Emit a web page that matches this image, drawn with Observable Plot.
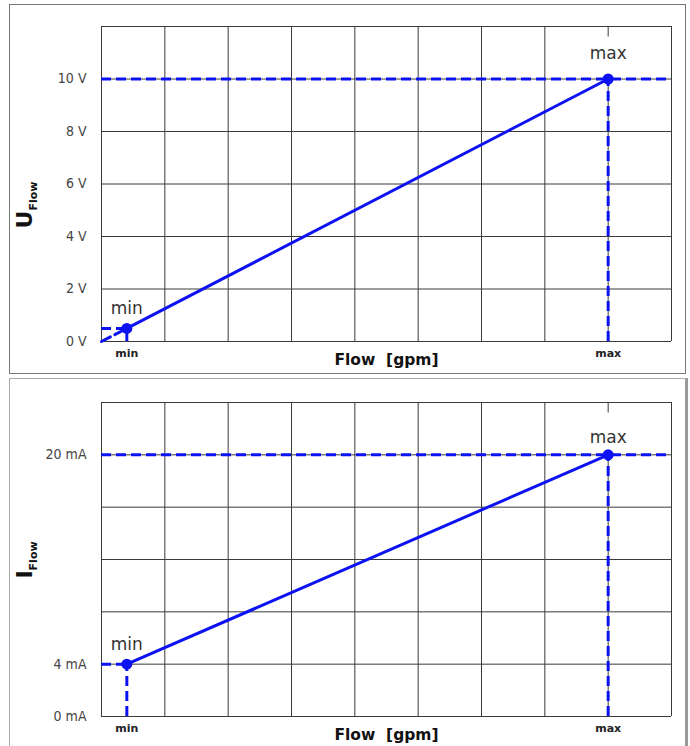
<!DOCTYPE html>
<html><head><meta charset="utf-8">
<script src="https://cdn.jsdelivr.net/npm/d3@7"></script>
<script src="https://cdn.jsdelivr.net/npm/@observablehq/plot@0.6"></script>
<style>
body{margin:0;background:#fff;width:690px;height:746px;overflow:hidden;position:relative;font-family:"DejaVu Sans",sans-serif}
.panel{position:absolute;box-sizing:border-box;background:#fff;overflow:hidden}
#p1{left:9px;top:4px;width:677px;height:370px;border:1px solid #777}
#p2{left:9px;top:378px;width:679px;height:372px;border:1px solid #aaa;border-right:3px solid #999}
.panel svg{display:block}
</style></head><body>
<div id="p1" class="panel"></div><div id="p2" class="panel"></div>
<script>
// ---- data ----
const xGrid = [0, 1, 2, 3, 4, 5, 6, 7, 8, 9];
const xMin = 0.4, xMax = 8;
const xTickLabels = ["min", "max"];
const xLabel = "Flow\u00a0\u00a0[gpm]";

const uGrid = [0, 2, 4, 6, 8, 10, 12];
const uTicks = [0, 2, 4, 6, 8, 10];
const uTickLabels = ["0 V", "2 V", "4 V", "6 V", "8 V", "10 V"];
const uMin = 0.5, uMax = 10;

const iGrid = [0, 4, 8, 12, 16, 20, 24];
const iTicks = [0, 4, 20];
const iTickLabels = ["0 mA", "4 mA", "20 mA"];
const iMin = 4, iMax = 20;

const pointLabels = ["min", "max"];
const BLUE = "#0d12f2";
const GRID = "#3a3a3a";

function chart({yGrid, yTicks, yTickLabels, yMin, yMax, diag, width, height, mt, mb, maxDy, yName, yLabelY}) {
  const step = yGrid[1] - yGrid[0];
  const dash = {stroke: BLUE, strokeWidth: 3, strokeDasharray: "10,5"};
  const marks = [
    Plot.ruleX(xGrid, {stroke: GRID, strokeWidth: 1}),
    Plot.ruleY(yGrid, {stroke: GRID, strokeWidth: 1}),
    Plot.ruleX([xMax], {y1: yMax, y2: yMax + step * 0.8, stroke: "white", strokeWidth: 3}),
    Plot.axisY({ticks: yTicks, tickFormat: d => yTickLabels[yTicks.indexOf(d)], tickSize: 6, tickPadding: 9,
      fontSize: 14, fontFamily: "DejaVu Sans Condensed", fill: "#444", stroke: null, label: null}),
    Plot.axisX({ticks: [xMin, xMax], tickFormat: d => xTickLabels[d === xMin ? 0 : 1], tickSize: 0, tickPadding: 8,
      fontSize: 11, fontWeight: "bold", fill: "#222", label: null}),
    Plot.text([xLabel], {frameAnchor: "bottom", dy: 19, lineAnchor: "middle", fontSize: 15.5, fontWeight: "bold", fill: "#111"}),
    Plot.ruleY([yMax], dash),
    Plot.ruleX([xMax], {y1: 0, y2: yMax, ...dash}),
    Plot.ruleY([yMin], {x1: 0, x2: xMin, ...dash}),
    Plot.ruleX([xMin], {y1: 0, y2: yMin, ...dash})
  ];
  if (diag) marks.push(Plot.line([[0, 0], [xMin, yMin]], {...dash}));
  marks.push(
    Plot.line([[xMin, yMin], [xMax, yMax]], {stroke: BLUE, strokeWidth: 3}),
    Plot.dot([[xMin, yMin], [xMax, yMax]], {r: 5.5, fill: BLUE}),
    Plot.text([[xMin, yMin]], {text: () => pointLabels[0], dy: -20, fontSize: 17, fill: "#333"}),
    Plot.text([[xMax, yMax]], {text: () => pointLabels[1], dy: maxDy, fontSize: 17, fill: "#333"})
  );
  const svg = Plot.plot({
    width, height,
    marginLeft: 91, marginRight: width - 661, marginTop: mt, marginBottom: mb,
    style: {fontFamily: "DejaVu Sans", background: "white"},
    x: {domain: [0, 9]},
    y: {domain: [yGrid[0], yGrid[yGrid.length - 1]]},
    marks
  });
  const t = d3.select(svg).append("text")
    .attr("transform", `translate(22,${yLabelY}) rotate(-90)`)
    .attr("text-anchor", "middle")
    .attr("font-family", "DejaVu Sans")
    .attr("font-weight", "bold")
    .attr("fill", "#111");
  t.append("tspan").attr("font-size", 22).text(yName[0]);
  t.append("tspan").attr("font-size", 11).attr("dy", 5).text(yName[1]);
  return svg;
}

document.getElementById("p1").appendChild(chart({
  yGrid: uGrid, yTicks: uTicks, yTickLabels: uTickLabels, yMin: uMin, yMax: uMax, diag: true,
  width: 675, height: 368, mt: 21, mb: 32, maxDy: -25, yName: ["U", "Flow"], yLabelY: 200
}));
document.getElementById("p2").appendChild(chart({
  yGrid: iGrid, yTicks: iTicks, yTickLabels: iTickLabels, yMin: iMin, yMax: iMax, diag: false,
  width: 675, height: 368, mt: 23, mb: 31, maxDy: -17, yName: ["I", "Flow"], yLabelY: 181
}));
</script>
</body></html>
